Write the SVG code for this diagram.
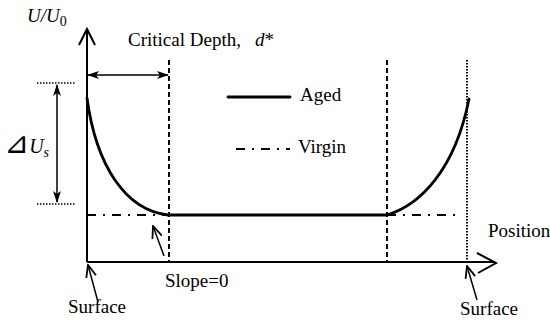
<svg xmlns="http://www.w3.org/2000/svg" width="550" height="323" viewBox="0 0 550 323">
<style>
text{font-family:'Liberation Serif','DejaVu Serif',serif;fill:#000;font-size:19px}
.it{font-style:italic}
.ax{stroke:#000;stroke-width:2;fill:none}
.thin{stroke:#000;stroke-width:1.5;fill:none}
.dash{stroke:#000;stroke-width:2;stroke-dasharray:5 3;fill:none}
.dot{stroke:#000;stroke-width:2;stroke-dasharray:1.5 1.5;fill:none}
.dotthin{stroke:#000;stroke-width:1.5;stroke-dasharray:1.5 1.5;fill:none}
.aged{stroke:#000;stroke-width:2.8;fill:none;stroke-linecap:round}
.virgin{stroke:#000;stroke-width:2.2;stroke-dasharray:9 7 2 7;fill:none}
</style>
<defs>
<marker id="ah" viewBox="0 0 12 8" refX="11" refY="4" markerWidth="12" markerHeight="8" markerUnits="userSpaceOnUse" orient="auto-start-reverse">
<path d="M0,0 L12,4 L0,8 L3,4 Z" fill="#000"/>
</marker>
<marker id="oa" viewBox="0 0 14 12" refX="13" refY="6" markerWidth="14" markerHeight="12" markerUnits="userSpaceOnUse" orient="auto">
<path d="M1,1 L13,6 L1,11" fill="none" stroke="#000" stroke-width="1.8"/>
</marker>
</defs>
<g id="connectors">
<path class="ax" d="M87,262 V30"/>
<path class="ax" d="M79,45 L87,29 L95,45"/>
<path class="ax" d="M87,262 H495"/>
<path class="ax" d="M477,253 L496,263 L478,273"/>
<path class="dash" d="M169,60 V262"/>
<path class="dash" d="M387,60 V262"/>
<path class="dot" d="M467,60 V262"/>
<path class="thin" d="M88,75 H168" marker-start="url(#ah)" marker-end="url(#ah)"/>
<path class="dotthin" d="M37,83 H76"/>
<path class="dotthin" d="M37,204 H76"/>
<path class="thin" d="M57,85 V202" marker-start="url(#ah)" marker-end="url(#ah)"/>
<path class="virgin" d="M87,215 H460"/>
<path class="aged" d="M87,98 C96,165 125,210 168,215 H387 C420,205 455,170 469,99"/>
<path class="aged" d="M228,97 H290"/>
<path class="virgin" d="M236,149 H290"/>
<path class="thin" d="M164,256 L153,226" marker-end="url(#oa)"/>
<path class="thin" d="M98,302 L88,265" marker-end="url(#oa)"/>
<path class="thin" d="M477,300 L467,266" marker-end="url(#oa)"/>
</g>
<g id="labels">
<text x="27" y="22"><tspan class="it">U</tspan><tspan class="it">/U</tspan><tspan font-size="14" dy="4">0</tspan></text>
<text x="128" y="46">Critical Depth,<tspan class="it" dx="14">d</tspan>*</text>
<text x="4" y="153"><tspan font-family="DejaVu Sans, Noto Sans CJK JP, sans-serif" font-size="30">⊿</tspan><tspan class="it" font-size="20">U</tspan><tspan class="it" font-size="14" dy="4">s</tspan></text>
<text x="300" y="101">Aged</text>
<text x="298" y="153">Virgin</text>
<text x="165" y="287">Slope=0</text>
<text x="488" y="237">Position</text>
<text x="68" y="313">Surface</text>
<text x="460" y="315">Surface</text>
</g>
</svg>
